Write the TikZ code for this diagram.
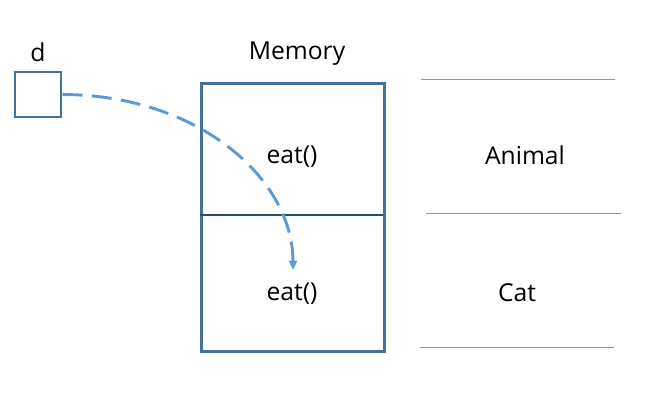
\documentclass[tikz,border=0pt]{standalone}
\usepackage{fontspec}
\setmainfont{Open Sans}
\usetikzlibrary{arrows.meta}
\definecolor{boxblue}{HTML}{44709C}
\definecolor{divblue}{HTML}{1F4E79}
\definecolor{lineblue}{HTML}{7A9CC0}
\definecolor{arrowblue}{HTML}{5B9BD5}
\begin{document}
\begin{tikzpicture}[x=0.75pt,y=-0.75pt,
  lbl/.style={font=\fontsize{18.5}{21}\selectfont, text=black, inner sep=0pt},
  frame/.style={draw=boxblue, line width=2.2pt},
  sep/.style={draw=lineblue, line width=0.6pt}]
\useasboundingbox (0,0) rectangle (661,418);
% small box d
\node[frame, inner sep=0pt, minimum width=34.5pt, minimum height=33.75pt] (dbox) at (38,94.5) {};
\node[lbl] (dlabel) at (38,52) {d};
\node[lbl] (mem) at (297,54) {Memory};
% memory box
\node[frame, inner sep=0pt, minimum width=137.25pt, minimum height=201pt, anchor=north west] (membox) at (200,82) {};
\coordinate (divl) at (200,215); \coordinate (divr) at (383,215);
\draw[draw=divblue, line width=2.2pt] (divl) -- (divr);
\node[lbl] (eat1) at (292,157) {eat()};
\node[lbl] (eat2) at (292,294) {eat()};
% separator lines
\coordinate (l1a) at (421,79); \coordinate (l1b) at (615,79);
\coordinate (l2a) at (426,213); \coordinate (l2b) at (621,213);
\coordinate (l3a) at (420,347); \coordinate (l3b) at (614,347);
\draw[sep] (l1a) -- (l1b);
\draw[sep] (l2a) -- (l2b);
\draw[sep] (l3a) -- (l3b);
\node[lbl] (animal) at (525,155) {Animal};
\node[lbl] (cat) at (517,293) {Cat};
% arrow
\coordinate (tip) at (293,270);
\draw[draw=arrowblue, line width=2.2pt, dash pattern=on 15pt off 7pt,
  -{Triangle[length=7pt,width=6pt]}]
  (dbox.east) .. controls (200,95) and (293,180) .. (tip);
\end{tikzpicture}
\end{document}
